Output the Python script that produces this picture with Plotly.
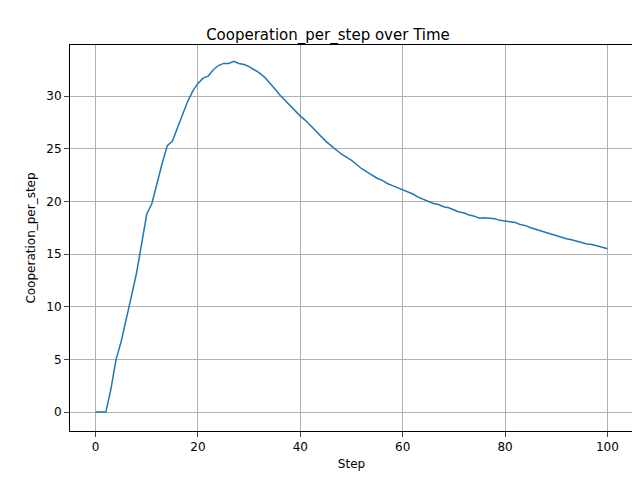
import plotly.graph_objects as go

steps = list(range(101))
coop = [0,0,0,2.2,5,6.7,9,11,13.2,16,18.8,19.8,21.8,23.6,25.3,25.7,27,28.3,29.5,30.5,
        31.2,31.7,31.9,32.5,32.9,33.1,33.1,33.3,33.1,33,32.8,32.5,32.2,31.8,31.3,30.7,30.1,29.6,29,28.5,
        28.1,27.7,27.2,26.7,26.1,25.7,25.3,24.9,24.5,24.2,23.9,23.5,23.1,22.8,22.5,22.2,22,21.7,21.5,21.3,
        21.1,20.9,20.7,20.4,20.2,20,19.8,19.7,19.5,19.4,19.2,19,18.9,18.7,18.6,18.4,18.45,18.4,18.35,18.2,
        18.15,18.05,18,17.8,17.7,17.5,17.35,17.2,17,16.85,16.7,16.6,16.45,16.35,16.2,16.1,15.95,15.9,15.8,15.65,15.5]

fig = go.Figure(go.Scatter(x=steps, y=coop, mode="lines", line=dict(color="#1f77b4", width=1.5)))
ax = dict(showline=True, mirror=True, linecolor="black", linewidth=1, ticks="outside",
          showgrid=True, gridcolor="#b0b0b0", gridwidth=1, zeroline=False, automargin=False,
          tickfont=dict(size=12, color="black"))
fig.update_layout(
    width=640, height=480, plot_bgcolor="white", paper_bgcolor="white",
    font=dict(family="DejaVu Sans", color="black", size=12),
    margin=dict(l=62, r=15, t=37, b=57, autoexpand=False),
    title=dict(text="Cooperation_per_step over Time", x=0.5, xanchor="center", y=0.955, font=dict(size=15)),
    xaxis=dict(ax, range=[-5, 105], tickvals=[0,20,40,60,80,100],
               title=dict(text="Step", standoff=6, font=dict(size=12))),
    yaxis=dict(ax, range=[-1.8, 34.85], tickvals=[0,5,10,15,20,25,30],
               title=dict(text="Cooperation_per_step", standoff=8, font=dict(size=12))),
    showlegend=False,
)
fig.write_html("out.html")
